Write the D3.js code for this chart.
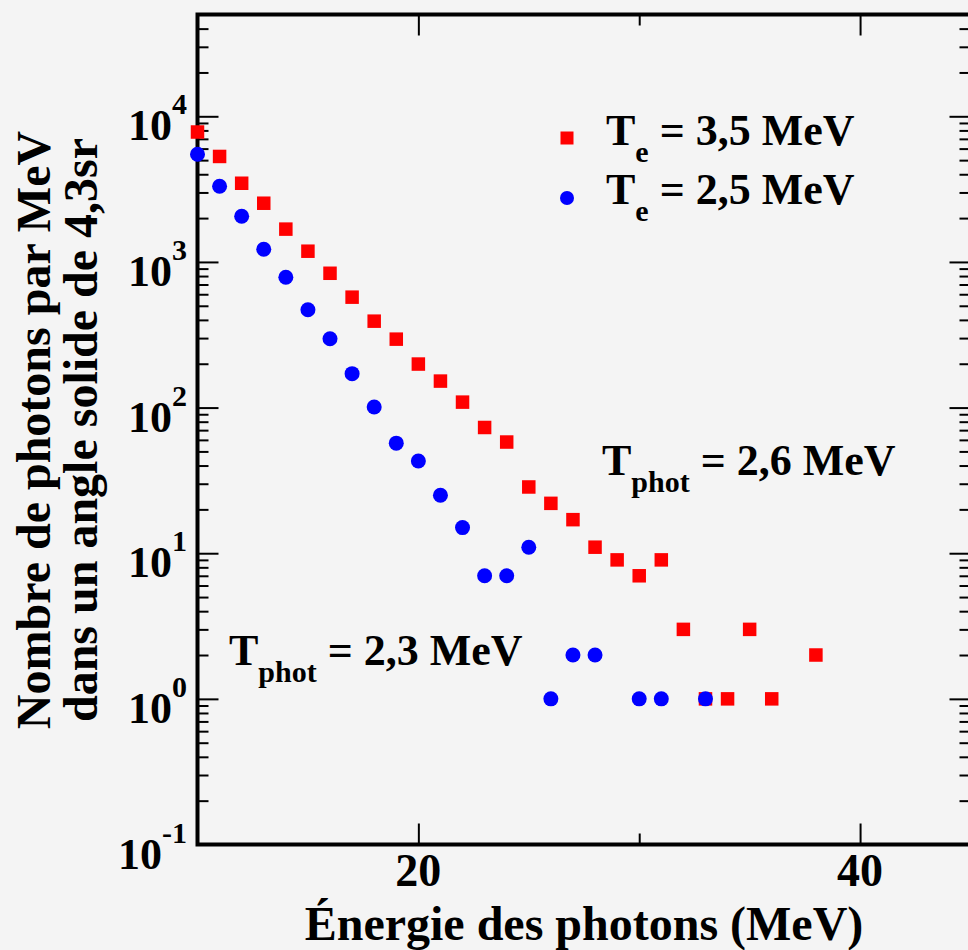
<!DOCTYPE html>
<html>
<head>
<meta charset="utf-8">
<script src="https://cdn.jsdelivr.net/npm/d3@7"></script>
<style>
  html, body { margin: 0; padding: 0; background: #f4f4f4; }
  svg { display: block; }
  text { font-family: "Liberation Serif", "Times New Roman", serif; font-weight: bold; fill: #000; }
</style>
</head>
<body>
<div id="chart"></div>
<script>
// photon energies (MeV) and counts per MeV
let energiesHot = [10, 11, 12, 13, 14, 15, 16, 17, 18, 19, 20, 21, 22, 23, 24, 25, 26, 27, 28, 29, 30, 31, 32, 33, 34, 35, 36, 38];
let countsHot   = [7800, 5300, 3470, 2530, 1680, 1185, 836, 573, 392, 295, 199, 152, 109, 73, 58, 28.5, 22, 17, 11, 9, 7, 9, 3, 1, 1, 3, 1, 2];

let energiesCold = [10, 11, 12, 13, 14, 15, 16, 17, 18, 19, 20, 21, 22, 23, 24, 25, 26, 27, 28, 30, 31, 33];
let countsCold   = [5490, 3310, 2060, 1222, 785, 470, 297, 171, 101, 57, 43, 25, 15, 7, 7, 11, 1, 2, 2, 1, 1, 1];

let xMajorTicks = [20, 40];
let xMinorTicks = [10, 30];
let yDecades    = [-1, 0, 1, 2, 3, 4];

let legendLabels = ["3,5 MeV", "2,5 MeV"];

let width  = 968,
    height = 950;

let plot = { left: 197.5, right: 970.5, top: 14.5, bottom: 844.5 };

let svg =
  d3.select("#chart")
    .append("svg")
      .attr("width", width)
      .attr("height", height);

svg.append("rect")
    .attr("width", width)
    .attr("height", height)
    .attr("fill", "#f4f4f4");

let x = d3.scaleLinear()
    .domain([10, 45])
    .range([plot.left, plot.right]);

let y = d3.scaleLog()
    .domain([0.1, 50000])
    .range([plot.bottom, plot.top]);

let yMajor = yDecades.map(function(e) { return Math.pow(10, e); });
let yMinor = [];
yDecades.forEach(function(e) {
  for (let m = 2; m <= 9; m++) {
    let v = m * Math.pow(10, e);
    if (v <= 50000) yMinor.push(v);
  }
});

// ticks on all four sides, pointing inward
function tickAxis(axis, values, size, transform) {
  let g = svg.append("g")
      .attr("transform", transform)
      .call(axis.tickValues(values).tickSizeInner(size).tickSizeOuter(0).tickFormat(""));
  g.select(".domain").remove();
  g.selectAll(".tick line").attr("stroke", "#000").attr("stroke-width", 2);
}

tickAxis(d3.axisBottom(x), xMajorTicks, -21, "translate(0," + plot.bottom + ")");
tickAxis(d3.axisBottom(x), xMinorTicks, -11, "translate(0," + plot.bottom + ")");
tickAxis(d3.axisTop(x), xMajorTicks, -21, "translate(0," + plot.top + ")");
tickAxis(d3.axisTop(x), xMinorTicks, -11, "translate(0," + plot.top + ")");
tickAxis(d3.axisLeft(y), yMajor, -21, "translate(" + plot.left + ",0)");
tickAxis(d3.axisLeft(y), yMinor, -11, "translate(" + plot.left + ",0)");
tickAxis(d3.axisRight(y), yMajor, -21, "translate(" + plot.right + ",0)");
tickAxis(d3.axisRight(y), yMinor, -11, "translate(" + plot.right + ",0)");

// frame
svg.append("rect")
    .attr("x", plot.left)
    .attr("y", plot.top)
    .attr("width", plot.right - plot.left)
    .attr("height", plot.bottom - plot.top)
    .attr("fill", "none")
    .attr("stroke", "#000")
    .attr("stroke-width", 4);

// x tick labels
svg.selectAll(".xlabel")
    .data(xMajorTicks)
    .enter()
    .append("text")
      .attr("class", "xlabel")
      .attr("x", function(d) { return x(d); })
      .attr("y", 886)
      .attr("text-anchor", "middle")
      .attr("font-size", 46)
      .text(function(d) { return d; });

// y tick labels: 10 with exponent
let ylab = svg.selectAll(".ylabel")
    .data(yDecades)
    .enter()
    .append("text")
      .attr("class", "ylabel")
      .attr("x", 187)
      .attr("y", function(d) { return y(Math.pow(10, d)) + 24; })
      .attr("text-anchor", "end")
      .attr("font-size", 44);

ylab.append("tspan").text("10");
ylab.append("tspan")
    .attr("font-size", 30)
    .attr("dy", -26)
    .text(function(d) { return d; });

// axis titles
svg.append("text")
    .attr("x", (plot.left + plot.right) / 2)
    .attr("y", 940)
    .attr("text-anchor", "middle")
    .attr("font-size", 48)
    .text("Énergie des photons (MeV)");

let ytitle = svg.append("text")
    .attr("transform", "translate(50,430) rotate(-90)")
    .attr("text-anchor", "middle")
    .attr("font-size", 48);

ytitle.append("tspan")
    .attr("x", 0)
    .attr("y", 0)
    .text("Nombre de photons par MeV");
ytitle.append("tspan")
    .attr("x", 0)
    .attr("y", 47)
    .text("dans un angle solide de 4,3sr");

// data
let hot = energiesHot.map(function(e, i) { return { energy: e, count: countsHot[i] }; });
let cold = energiesCold.map(function(e, i) { return { energy: e, count: countsCold[i] }; });

let side = 13.5;

svg.selectAll(".hot")
    .data(hot)
    .enter()
    .append("rect")
      .attr("class", "hot")
      .attr("x", function(d) { return x(d.energy) - side / 2; })
      .attr("y", function(d) { return y(d.count) - side / 2; })
      .attr("width", side)
      .attr("height", side)
      .attr("fill", "#ff0000");

svg.selectAll(".cold")
    .data(cold)
    .enter()
    .append("circle")
      .attr("class", "cold")
      .attr("cx", function(d) { return x(d.energy); })
      .attr("cy", function(d) { return y(d.count); })
      .attr("r", 7.5)
      .attr("fill", "#0000ff");

// legend
let legend = svg.append("g");

legend.append("rect")
    .attr("x", 567 - 6.5)
    .attr("y", 138 - 6.5)
    .attr("width", 13)
    .attr("height", 13)
    .attr("fill", "#ff0000");

legend.append("circle")
    .attr("cx", 567)
    .attr("cy", 198)
    .attr("r", 7)
    .attr("fill", "#0000ff");

function subLabel(g, px, py, main, sub, rest) {
  let t = g.append("text")
      .attr("x", px)
      .attr("y", py)
      .attr("font-size", 44);
  t.append("tspan").text(main);
  t.append("tspan").attr("font-size", 30).attr("dy", 17).text(sub);
  t.append("tspan").attr("dy", -17).text(" = " + rest);
}

legendLabels.forEach(function(lbl, i) {
  subLabel(legend, 606, 145 + i * 59, "T", "e", lbl);
});

subLabel(svg, 602, 475, "T", "phot", "2,6 MeV");
subLabel(svg, 229, 665, "T", "phot", "2,3 MeV");
</script>
</body>
</html>
